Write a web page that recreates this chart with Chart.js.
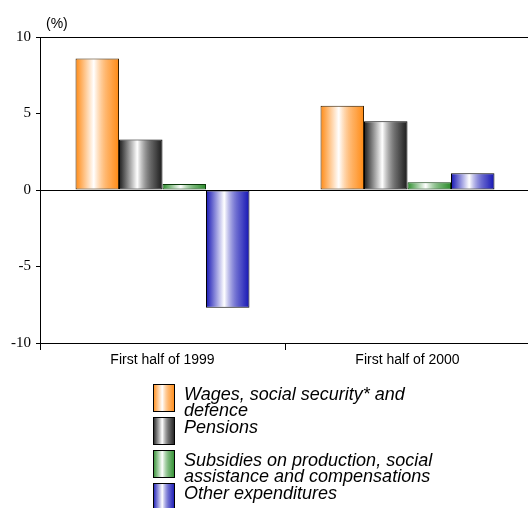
<!DOCTYPE html>
<html>
<head>
<meta charset="utf-8">
<script src="https://cdn.jsdelivr.net/npm/chart.js@4"></script>
<style>
  html, body { margin: 0; padding: 0; background: #fff; overflow: hidden; }
  #wrap { width: 540px; height: 508px; }
</style>
</head>
<body>
<div id="wrap"><canvas id="spending"></canvas></div>
<script>
const categories = ["First half of 1999", "First half of 2000"];
const seriesNames = [
  "Wages, social security* and defence",
  "Pensions",
  "Subsidies on production, social assistance and compensations",
  "Other expenditures",
];
const wages = [8.6, 5.5];
const pensions = [3.3, 4.5];
const subsidies = [0.4, 0.5];
const other = [-7.7, 1.1];
const yMin = -10;
const yMax = 10;
const yStep = 5;

const edgeColors = ["#ff8a14", "#1a1a1a", "#2a8c2a", "#1414b4"];
const borderColors = ["#3a2000", "#000000", "#0a3a0a", "#000000"];
const categoryPct = 0.71;

// cylinder-ish shading: dark edges, white highlight left of centre
function shade(c2d, left, right, edge) {
  const g = c2d.createLinearGradient(left, 0, right, 0);
  g.addColorStop(0, edge);
  g.addColorStop(0.42, "#ffffff");
  g.addColorStop(0.75, edge + "b0");
  g.addColorStop(1, edge);
  return g;
}

function barFill(ctx) {
  const chart = ctx.chart;
  const edge = edgeColors[ctx.datasetIndex];
  const x = chart.scales.x;
  if (!x || ctx.type !== "data") return edge;
  const n = chart.data.datasets.length;
  const groupW = (x.width / chart.data.labels.length) * categoryPct;
  const barW = groupW / n;
  const left = x.getPixelForValue(ctx.dataIndex) - groupW / 2 + ctx.datasetIndex * barW;
  if (!isFinite(left) || !isFinite(barW) || barW <= 0) return edge;
  return shade(chart.ctx, left, left + barW, edge);
}

const extras = {
  id: "extras",
  afterDraw(chart) {
    const c = chart.ctx;
    const area = chart.chartArea;
    c.save();
    // unit label above the axis
    c.fillStyle = "#000";
    c.font = "14px 'Liberation Sans', Arial, sans-serif";
    c.textAlign = "left";
    c.textBaseline = "alphabetic";
    c.fillText("(%)", area.left + 6, area.top - 9);

    // legend below the plot
    c.font = "italic 18px 'Liberation Sans', Arial, sans-serif";
    const boxX = 153, boxW = 22, boxH = 28, textX = 184, top0 = 384, pitch = 33, lineH = 15.5;
    chart.data.datasets.forEach((ds, i) => {
      const top = top0 + i * pitch;
      c.fillStyle = shade(c, boxX, boxX + boxW, edgeColors[i]);
      c.fillRect(boxX, top, boxW, boxH);
      c.strokeStyle = "#000";
      c.lineWidth = 1;
      c.strokeRect(boxX + 0.5, top + 0.5, boxW - 1, boxH - 1);
      // wrap label to two lines where needed
      const words = ds.label.split(" ");
      const lines = [];
      let cur = "";
      words.forEach((w) => {
        const t = cur ? cur + " " + w : w;
        if (c.measureText(t).width > 262 && cur) {
          lines.push(cur);
          cur = w;
        } else {
          cur = t;
        }
      });
      lines.push(cur);
      c.fillStyle = "#000";
      lines.forEach((ln, k) => c.fillText(ln, textX, top + 16 + k * lineH));
    });
    c.restore();
  },
};

const values = [wages, pensions, subsidies, other];

new Chart(document.getElementById("spending"), {
  type: "bar",
  data: {
    labels: categories,
    datasets: values.map((v, i) => ({
      label: seriesNames[i],
      data: v,
      backgroundColor: barFill,
      borderColor: borderColors[i],
      borderWidth: 1,
      borderSkipped: false,
      barPercentage: 1.0,
      categoryPercentage: categoryPct,
    })),
  },
  options: {
    responsive: true,
    maintainAspectRatio: false,
    animation: false,
    layout: { padding: { top: 37, right: 10, left: 0, bottom: 0 } },
    plugins: {
      legend: { display: false },
      tooltip: { enabled: false },
    },
    scales: {
      x: {
        afterFit: (s) => { s.height = 165; },
        grid: {
          drawOnChartArea: false,
          tickColor: "#000",
          tickLength: 7,
          offset: true,
        },
        border: { color: "#000", width: 1 },
        ticks: {
          color: "#000",
          padding: 2,
          font: { family: "'Liberation Sans', Arial, sans-serif", size: 14 },
        },
      },
      y: {
        min: yMin,
        max: yMax,
        afterFit: (s) => { s.width = 40; },
        grid: {
          color: (ctx) => (ctx.tick && (ctx.tick.value === 0 || ctx.tick.value === yMax) ? "#000" : "rgba(0,0,0,0)"),
          tickColor: "#000",
          tickLength: 4,
        },
        border: { color: "#000", width: 1 },
        ticks: {
          stepSize: yStep,
          color: "#000",
          padding: 5,
          font: { family: "'Liberation Serif', 'Times New Roman', serif", size: 15 },
        },
      },
    },
  },
  plugins: [extras],
});
</script>
</body>
</html>
